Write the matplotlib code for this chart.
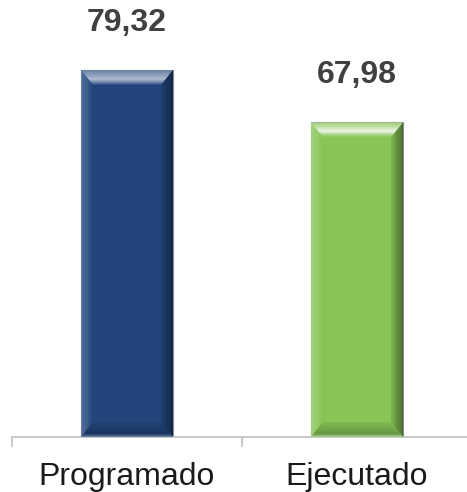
import matplotlib
matplotlib.use('Agg')
import matplotlib.pyplot as plt
from matplotlib.patches import Polygon
from matplotlib.colors import to_rgb
import numpy as np

categorias = ['Programado', 'Ejecutado']
valores = [79.32, 67.98]
etiquetas = ['79,32', '67,98']
colores = ['#22467c', '#88c557']

plt.rcParams['font.family'] = ['Liberation Sans', 'DejaVu Sans']


def mezcla(c1, c2, t):
    a = np.array(to_rgb(c1))
    b = np.array(to_rgb(c2))
    return tuple(a + (b - a) * t)


def franja(ax, esquinas, colores_fn, n=14):
    # esquinas: (exterior_a, exterior_b, interior_b, interior_a)
    ea, eb, ib, ia = [np.array(p) for p in esquinas]
    for i in range(n):
        t0, t1 = i / n, (i + 1) / n
        pts = [ea + (ia - ea) * t0, eb + (ib - eb) * t0,
               eb + (ib - eb) * t1, ea + (ia - ea) * t1]
        ax.add_patch(Polygon(pts, closed=True, fc=colores_fn((t0 + t1) / 2),
                             ec='none', zorder=3))


def biselado(ax, x0, x1, y1, color, bx, by):
    y0 = 0
    claro = mezcla(color, 'white', 0.85)

    def arriba(f):
        if f < 0.6:
            return mezcla(mezcla(color, 'white', 0.3), claro, f / 0.6)
        return mezcla(claro, color, (f - 0.6) / 0.4)

    def izq(f):
        return mezcla(mezcla(color, 'white', 0.3), color, f)

    def der(f):
        return mezcla(mezcla(color, 'black', 0.55), mezcla(color, 'black', 0.1), f)

    def abajo(f):
        if f < 0.25:
            return mezcla(mezcla(color, 'white', 0.35), mezcla(color, 'black', 0.3), f / 0.25)
        return mezcla(mezcla(color, 'black', 0.3), mezcla(color, 'black', 0.05), (f - 0.25) / 0.75)

    franja(ax, [(x0, y1), (x1, y1), (x1 - bx, y1 - by), (x0 + bx, y1 - by)], arriba)
    franja(ax, [(x0, y0), (x0, y1), (x0 + bx, y1 - by), (x0 + bx, y0 + by)], izq)
    franja(ax, [(x1, y0), (x1, y1), (x1 - bx, y1 - by), (x1 - bx, y0 + by)], der)
    franja(ax, [(x0, y0), (x1, y0), (x1 - bx, y0 + by), (x0 + bx, y0 + by)], abajo)


fig = plt.figure(figsize=(4.67, 4.92), dpi=100)
ax = fig.add_axes([12 / 467, 55 / 492, 460 / 467, 416.4 / 492])
ax.set_xlim(-0.5, 1.5)
ax.set_ylim(0, 90)

x = np.arange(len(categorias))
ancho = 0.4
barras = ax.bar(x, valores, width=ancho, color=colores, edgecolor='#8a8f96',
                linewidth=0.8, zorder=2)

# tamaño del bisel en unidades de datos (aprox. 12-15 px)
bx = 12 / 230
by = 15 * 90 / 416.4
for b, c in zip(barras, colores):
    biselado(ax, b.get_x(), b.get_x() + b.get_width(), b.get_height(), c, bx, by)

for xi, v, t in zip(x, valores, etiquetas):
    ax.annotate(t, (xi, v), xytext=(0, 39), textcoords='offset pixels',
                ha='center', va='baseline', fontsize=23, fontweight='bold',
                color='#404040')

for s in ['top', 'right', 'left']:
    ax.spines[s].set_visible(False)
ax.spines['bottom'].set_color('#bfbfbf')
ax.spines['bottom'].set_linewidth(1.2)
ax.set_yticks([])
ax.set_xticks(x)
ax.set_xticklabels(categorias, fontsize=23, color='#1a1a1a')
ax.tick_params(axis='x', which='major', length=0, pad=18)
ax.set_xticks([-0.5, 0.5, 1.5], minor=True)
ax.tick_params(axis='x', which='minor', length=7.5, width=1.2, color='#bfbfbf')

fig.savefig('out.png', dpi=100)
